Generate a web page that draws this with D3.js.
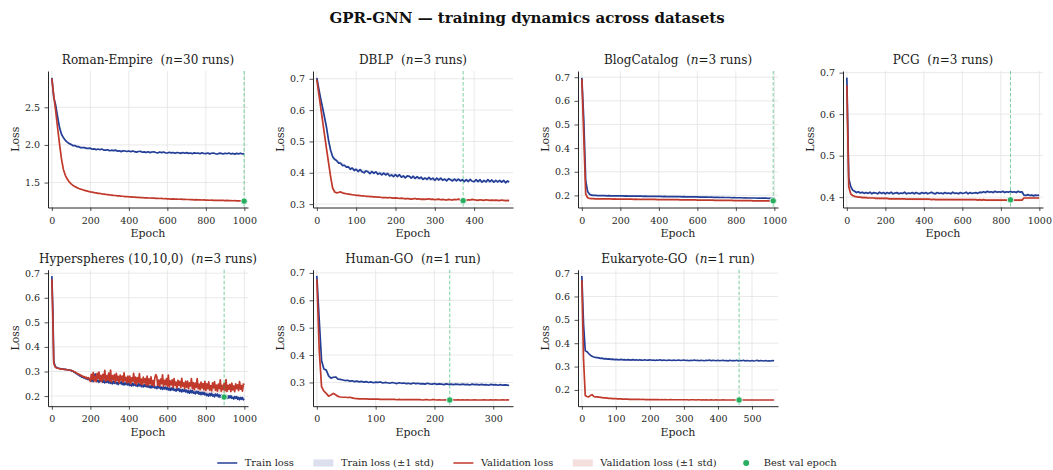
<!DOCTYPE html>
<html>
<head>
<meta charset="utf-8">
<script src="https://cdn.jsdelivr.net/npm/d3@7"></script>
<style>
  html, body { margin: 0; padding: 0; background: #fff; }
  svg { display: block; font-family: "DejaVu Serif", serif; }
  text { white-space: pre; }
</style>
</head>
<body>
<svg id="chart" width="1053" height="470"></svg>
<script>
// ---------------------------------------------------------------------------
// Mean loss curves per dataset, one value per sampled epoch
// (epochs 0, step, 2*step, ... with the final value at the last epoch).
// ---------------------------------------------------------------------------
const romanTrain = [
  2.890,2.632,2.528,2.372,2.231,2.142,2.097,2.061,2.038,2.017,
  2.008,1.990,1.991,1.977,1.977,1.963,1.965,1.964,1.953,1.954,
  1.957,1.943,1.948,1.936,1.945,1.936,1.945,1.931,1.932,1.936,
  1.923,1.930,1.924,1.931,1.918,1.922,1.911,1.923,1.919,1.913,
  1.920,1.910,1.920,1.910,1.905,1.913,1.915,1.903,1.908,1.899,
  1.909,1.898,1.906,1.909,1.899,1.894,1.906,1.898,1.906,1.895,
  1.893,1.903,1.895,1.899,1.889,1.899,1.896,1.888,1.899,1.890,
  1.898,1.888,1.893,1.884,1.895,1.889,1.893,1.883,1.896,1.886,
  1.884,1.893,1.881,1.889,1.893,1.883,1.879,1.890,1.887,1.880,
  1.890,1.883,1.892,1.880,1.887,1.878,1.888,1.881,1.890,1.880,
  1.885];
const romanVal = [
  2.880,2.650,2.450,2.225,2.010,1.815,1.675,1.596,1.546,1.510,
  1.483,1.462,1.446,1.433,1.422,1.412,1.404,1.396,1.389,1.382,
  1.376,1.372,1.366,1.363,1.357,1.355,1.349,1.347,1.342,1.340,
  1.336,1.334,1.329,1.328,1.324,1.323,1.319,1.318,1.314,1.314,
  1.311,1.310,1.307,1.307,1.303,1.304,1.300,1.301,1.297,1.298,
  1.296,1.295,1.292,1.293,1.290,1.291,1.288,1.289,1.285,1.286,
  1.284,1.284,1.281,1.282,1.279,1.280,1.278,1.279,1.276,1.277,
  1.275,1.275,1.273,1.274,1.271,1.272,1.270,1.271,1.268,1.269,
  1.267,1.268,1.265,1.267,1.264,1.265,1.263,1.264,1.262,1.263,
  1.261,1.262,1.259,1.261,1.258,1.259,1.257,1.258,1.256,1.257,
  1.255];

const dblpTrain = [
  0.703,0.668,0.635,0.605,0.574,0.542,0.502,0.472,0.452,0.443,
  0.439,0.431,0.431,0.423,0.424,0.418,0.419,0.411,0.415,0.407,
  0.411,0.404,0.410,0.403,0.400,0.406,0.403,0.397,0.404,0.398,
  0.403,0.395,0.399,0.393,0.399,0.393,0.398,0.390,0.393,0.388,
  0.394,0.388,0.394,0.386,0.390,0.384,0.390,0.389,0.383,0.389,
  0.382,0.388,0.382,0.386,0.379,0.384,0.379,0.385,0.379,0.383,
  0.376,0.383,0.377,0.383,0.376,0.380,0.374,0.381,0.378,0.374,
  0.380,0.374,0.380,0.374,0.378,0.372,0.378,0.372,0.379,0.373,
  0.372,0.378,0.372,0.378,0.370,0.376,0.371,0.378,0.372,0.377,
  0.370,0.376,0.371,0.376,0.370,0.376,0.368,0.374,
  0.370];
const dblpVal = [
  0.697,0.652,0.607,0.562,0.517,0.473,0.430,0.388,0.352,0.339,
  0.336,0.337,0.339,0.336,0.334,0.333,0.332,0.331,0.330,0.329,
  0.328,0.328,0.327,0.326,0.326,0.325,0.325,0.324,0.324,0.323,
  0.323,0.322,0.322,0.321,0.321,0.321,0.320,0.321,0.320,0.319,
  0.320,0.319,0.318,0.319,0.318,0.317,0.318,0.317,0.316,0.317,
  0.318,0.316,0.317,0.315,0.316,0.315,0.316,0.317,0.315,0.316,
  0.314,0.315,0.316,0.314,0.315,0.314,0.313,0.315,0.314,0.313,
  0.315,0.314,0.316,0.313,0.314,0.312,0.312,0.314,0.313,0.315,
  0.314,0.313,0.312,0.314,0.313,0.312,0.314,0.313,0.312,0.313,
  0.312,0.313,0.312,0.311,0.313,0.312,0.311,0.312,
  0.311];

const blogTrain = [
  0.697,0.520,0.262,0.216,0.205,0.201,0.200,0.200,0.199,0.199,
  0.199,0.199,0.199,0.198,0.199,0.198,0.198,0.198,0.198,0.198,
  0.198,0.198,0.197,0.198,0.197,0.197,0.197,0.197,0.197,0.197,
  0.197,0.197,0.196,0.197,0.196,0.196,0.196,0.196,0.196,0.196,
  0.196,0.196,0.195,0.196,0.195,0.195,0.195,0.195,0.195,0.195,
  0.195,0.195,0.194,0.195,0.194,0.194,0.194,0.194,0.194,0.194,
  0.194,0.193,0.193,0.193,0.193,0.193,0.192,0.193,0.192,0.192,
  0.192,0.192,0.191,0.192,0.191,0.191,0.191,0.191,0.190,0.191,
  0.190,0.190,0.190,0.190,0.189,0.190,0.189,0.189,0.189,0.189,
  0.189,0.188,0.189,0.188,0.188,0.188,0.188,0.187,0.188,0.187,
  0.187];
const blogVal = [
  0.692,0.450,0.206,0.190,0.187,0.186,0.186,0.185,0.185,0.185,
  0.185,0.185,0.185,0.185,0.185,0.185,0.184,0.185,0.184,0.184,
  0.184,0.184,0.184,0.184,0.184,0.184,0.184,0.183,0.184,0.183,
  0.183,0.183,0.183,0.183,0.183,0.183,0.183,0.183,0.183,0.182,
  0.182,0.182,0.182,0.182,0.182,0.182,0.182,0.182,0.182,0.182,
  0.182,0.181,0.181,0.181,0.181,0.181,0.181,0.181,0.181,0.181,
  0.180,0.180,0.180,0.180,0.180,0.180,0.180,0.180,0.180,0.179,
  0.179,0.179,0.179,0.179,0.179,0.179,0.179,0.179,0.179,0.178,
  0.178,0.178,0.178,0.178,0.178,0.178,0.178,0.178,0.178,0.177,
  0.177,0.177,0.177,0.177,0.177,0.177,0.177,0.177,0.177,0.177,
  0.177];

const pcgTrain = [
  0.688,0.445,0.426,0.417,0.414,0.411,0.413,0.410,0.412,0.409,
  0.411,0.409,0.412,0.408,0.411,0.410,0.408,0.412,0.409,0.411,
  0.408,0.411,0.409,0.412,0.408,0.410,0.411,0.408,0.410,0.409,
  0.412,0.408,0.410,0.409,0.411,0.408,0.411,0.409,0.408,0.411,
  0.409,0.411,0.408,0.410,0.412,0.409,0.408,0.411,0.409,0.410,
  0.408,0.411,0.409,0.410,0.408,0.412,0.409,0.410,0.408,0.411,
  0.409,0.410,0.412,0.408,0.411,0.409,0.410,0.411,0.409,0.412,
  0.411,0.413,0.411,0.414,0.412,0.413,0.411,0.414,0.412,0.413,
  0.412,0.414,0.411,0.413,0.412,0.414,0.412,0.413,0.411,0.414,
  0.412,0.413,0.405,0.404,0.406,0.404,0.405,0.403,0.405,0.404,
  0.405];
const pcgVal = [
  0.669,0.425,0.408,0.404,0.402,0.401,0.400,0.400,0.399,0.399,
  0.399,0.398,0.398,0.398,0.398,0.397,0.397,0.397,0.397,0.397,
  0.397,0.397,0.396,0.396,0.396,0.396,0.396,0.396,0.396,0.396,
  0.396,0.395,0.395,0.395,0.395,0.395,0.395,0.395,0.395,0.395,
  0.395,0.395,0.395,0.395,0.394,0.395,0.394,0.394,0.394,0.394,
  0.394,0.394,0.394,0.394,0.394,0.394,0.394,0.394,0.394,0.394,
  0.394,0.394,0.394,0.394,0.394,0.394,0.394,0.394,0.393,0.394,
  0.393,0.394,0.393,0.393,0.393,0.393,0.393,0.393,0.393,0.393,
  0.393,0.393,0.393,0.393,0.393,0.393,0.393,0.393,0.393,0.393,
  0.393,0.393,0.398,0.398,0.398,0.398,0.398,0.398,0.398,0.398,
  0.398];

const hyperTrain = [
  0.688,0.560,0.342,0.326,0.318,0.316,0.314,0.313,0.312,0.311,0.311,0.310,0.310,0.309,0.309,0.308,0.307,0.307,0.306,0.305,
  0.304,0.301,0.301,0.297,0.296,0.292,0.291,0.287,0.287,0.282,0.282,0.277,0.278,0.274,0.275,0.271,0.272,0.268,0.270,0.266,
  0.270,0.261,0.267,0.259,0.280,0.290,0.270,0.259,0.264,0.256,0.267,0.260,0.267,0.256,0.263,0.254,0.263,0.256,0.263,0.254,
  0.261,0.252,0.258,0.250,0.260,0.252,0.261,0.250,0.255,0.247,0.258,0.251,0.258,0.247,0.254,0.245,0.254,0.247,0.254,0.245,
  0.252,0.243,0.249,0.241,0.252,0.243,0.252,0.242,0.246,0.239,0.250,0.242,0.250,0.238,0.246,0.237,0.246,0.239,0.247,0.237,
  0.244,0.235,0.241,0.233,0.243,0.235,0.243,0.233,0.237,0.230,0.240,0.233,0.240,0.229,0.236,0.227,0.236,0.229,0.236,0.227,
  0.234,0.225,0.231,0.223,0.233,0.225,0.233,0.223,0.227,0.220,0.230,0.223,0.230,0.219,0.226,0.217,0.226,0.219,0.226,0.217,
  0.224,0.214,0.221,0.212,0.223,0.214,0.223,0.212,0.216,0.209,0.219,0.212,0.219,0.208,0.215,0.206,0.215,0.207,0.215,0.205,
  0.211,0.202,0.208,0.200,0.210,0.202,0.211,0.200,0.205,0.197,0.208,0.201,0.208,0.197,0.204,0.195,0.204,0.197,0.205,0.195,
  0.202,0.193,0.199,0.191,0.201,0.193,0.201,0.191,0.195,0.188,0.198,0.191,0.198,0.187,0.194,0.185,0.194,0.187,0.194,0.185,
  0.189];
const hyperVal = [
  0.675,0.520,0.335,0.322,0.316,0.314,0.313,0.312,0.311,0.311,0.310,0.310,0.309,0.309,0.308,0.308,0.307,0.306,0.306,0.305,
  0.305,0.303,0.302,0.299,0.298,0.295,0.293,0.290,0.289,0.286,0.285,0.281,0.281,0.277,0.279,0.274,0.276,0.271,0.275,0.269,
  0.261,0.288,0.268,0.296,0.262,0.281,0.259,0.292,0.272,0.298,0.263,0.284,0.259,0.288,0.269,0.305,0.261,0.283,0.265,0.293,
  0.261,0.306,0.258,0.283,0.267,0.287,0.257,0.292,0.264,0.280,0.254,0.285,0.265,0.281,0.257,0.294,0.262,0.276,0.254,0.281,
  0.256,0.281,0.250,0.274,0.261,0.292,0.252,0.277,0.248,0.275,0.256,0.291,0.250,0.269,0.246,0.277,0.254,0.271,0.246,0.281,
  0.243,0.270,0.250,0.278,0.244,0.263,0.241,0.274,0.287,0.280,0.244,0.265,0.240,0.269,0.250,0.286,0.240,0.264,0.246,0.271,
  0.240,0.285,0.237,0.262,0.246,0.266,0.236,0.271,0.243,0.257,0.233,0.264,0.244,0.260,0.235,0.272,0.240,0.254,0.231,0.260,
  0.236,0.261,0.230,0.254,0.241,0.271,0.231,0.255,0.226,0.253,0.236,0.271,0.230,0.249,0.226,0.257,0.233,0.251,0.226,0.260,
  0.223,0.250,0.230,0.258,0.224,0.243,0.221,0.254,0.233,0.259,0.224,0.245,0.220,0.249,0.230,0.266,0.220,0.244,0.226,0.252,
  0.222,0.267,0.219,0.244,0.228,0.248,0.218,0.253,0.225,0.241,0.218,0.250,0.230,0.246,0.222,0.259,0.228,0.242,0.220,0.249,
  0.245];

const humanTrain = [
  0.689,0.530,0.380,0.349,0.345,0.324,0.316,0.319,0.320,0.312,
  0.311,0.309,0.307,0.308,0.305,0.306,0.303,0.305,0.302,0.304,
  0.301,0.303,0.300,0.302,0.299,0.301,0.300,0.302,0.298,0.300,
  0.299,0.297,0.300,0.298,0.296,0.299,0.297,0.298,0.296,0.297,
  0.295,0.298,0.296,0.297,0.295,0.296,0.294,0.297,0.295,0.294,
  0.296,0.293,0.295,0.294,0.292,0.295,0.293,0.294,0.292,0.294,
  0.293,0.292,0.294,0.292,0.293,0.291,0.294,0.292,0.293,0.291,
  0.293,0.291,0.292,0.290,0.293,0.291,0.292,0.290,0.292,0.290,
  0.291,0.290,0.289];
const humanVal = [
  0.677,0.420,0.285,0.268,0.260,0.250,0.254,0.260,0.255,0.249,
  0.247,0.246,0.246,0.245,0.246,0.244,0.242,0.241,0.240,0.240,
  0.240,0.240,0.239,0.239,0.239,0.239,0.239,0.238,0.238,0.238,
  0.238,0.238,0.238,0.238,0.237,0.238,0.237,0.237,0.237,0.237,
  0.237,0.237,0.237,0.237,0.237,0.236,0.237,0.237,0.236,0.237,
  0.237,0.236,0.237,0.236,0.236,0.237,0.236,0.236,0.237,0.236,
  0.237,0.236,0.237,0.236,0.237,0.236,0.236,0.237,0.236,0.236,
  0.236,0.237,0.236,0.236,0.237,0.236,0.237,0.236,0.236,0.237,
  0.236,0.237,0.236];

const eukTrain = [
  0.688,0.480,0.368,0.364,0.356,0.349,0.344,0.341,0.339,0.338,
  0.337,0.335,0.336,0.333,0.334,0.332,0.333,0.331,0.332,0.330,
  0.331,0.330,0.329,0.331,0.329,0.330,0.328,0.330,0.329,0.328,
  0.330,0.328,0.329,0.327,0.329,0.328,0.327,0.329,0.327,0.328,
  0.329,0.327,0.328,0.326,0.328,0.327,0.329,0.326,0.328,0.327,
  0.326,0.328,0.327,0.326,0.328,0.326,0.327,0.328,0.326,0.327,
  0.328,0.326,0.327,0.325,0.327,0.326,0.328,0.326,0.327,0.325,
  0.327,0.326,0.325,0.327,0.326,0.328,0.325,0.327,0.326,0.325,
  0.327,0.325,0.326,0.327,0.325,0.326,0.324,0.327,0.325,0.326,
  0.325,0.327,0.324,0.326,0.325,0.327,0.324,0.326,0.325,0.324,
  0.326,0.324,0.325,0.327,0.324,0.326,0.325,0.324,0.326,0.324,
  0.325,0.324,0.326,0.325];
const eukVal = [
  0.669,0.330,0.176,0.172,0.170,0.176,0.180,0.172,0.170,0.170,
  0.169,0.168,0.167,0.166,0.166,0.165,0.164,0.164,0.163,0.163,
  0.163,0.162,0.162,0.162,0.161,0.161,0.161,0.161,0.160,0.160,
  0.160,0.160,0.160,0.160,0.160,0.159,0.160,0.159,0.159,0.159,
  0.159,0.159,0.159,0.159,0.159,0.159,0.158,0.159,0.158,0.159,
  0.158,0.158,0.159,0.158,0.158,0.158,0.158,0.158,0.158,0.158,
  0.158,0.158,0.158,0.157,0.158,0.158,0.158,0.157,0.158,0.158,
  0.157,0.158,0.157,0.158,0.157,0.157,0.158,0.157,0.157,0.158,
  0.157,0.157,0.157,0.158,0.157,0.157,0.157,0.157,0.157,0.157,
  0.157,0.157,0.157,0.157,0.157,0.157,0.157,0.157,0.157,0.157,
  0.157,0.157,0.157,0.157,0.157,0.157,0.157,0.157,0.157,0.157,
  0.157,0.157,0.157,0.157];

// Run-to-run spread (±1 std) at selected epochs, for multi-run datasets.
const romanStdEpochs = [0,10,20,30,40,50,60,80,100,150,200,300,400,500,600,700,800,900,999];
const romanTrainStd  = [0.010,0.015,0.018,0.020,0.018,0.015,0.012,0.010,0.009,0.008,0.007,0.007,0.006,0.006,0.006,0.006,0.006,0.006,0.006];
const romanValStd    = [0.010,0.020,0.025,0.025,0.022,0.018,0.012,0.008,0.006,0.005,0.005,0.004,0.004,0.004,0.004,0.004,0.004,0.004,0.004];
const dblpStdEpochs  = [0,10,20,30,40,50,60,80,100,150,200,250,300,350,400,450,489];
const dblpTrainStd   = [0.002,0.006,0.007,0.007,0.006,0.004,0.004,0.003,0.003,0.003,0.003,0.003,0.003,0.003,0.003,0.003,0.003];
const dblpValStd     = [0.002,0.008,0.010,0.010,0.008,0.004,0.003,0.002,0.002,0.002,0.002,0.002,0.002,0.002,0.002,0.002,0.002];
const blogStdEpochs  = [0,10,20,30,40,60,100,200,400,600,800,999];
const blogTrainStd   = [0.003,0.020,0.010,0.004,0.003,0.002,0.002,0.002,0.002,0.002,0.002,0.002];
const blogValStd     = [0.003,0.020,0.006,0.003,0.002,0.002,0.002,0.002,0.002,0.002,0.002,0.002];
const pcgStdEpochs   = [0,10,20,30,50,100,200,400,600,800,900,920,999];
const pcgTrainStd    = [0.001,0.008,0.004,0.003,0.002,0.002,0.002,0.002,0.002,0.002,0.002,0.002,0.002];
const pcgValStd      = [0.001,0.008,0.004,0.003,0.003,0.003,0.003,0.003,0.003,0.003,0.003,0.003,0.003];
const hyperStdEpochs = [0,10,20,50,100,150,200,300,400,500,600,700,800,900,999];
const hyperTrainStd  = [0.001,0.006,0.004,0.003,0.003,0.004,0.005,0.005,0.005,0.005,0.005,0.005,0.005,0.005,0.005];
const hyperValStd    = [0.001,0.006,0.004,0.003,0.003,0.005,0.008,0.010,0.010,0.010,0.010,0.010,0.010,0.010,0.010];

// Per-dataset metadata
const datasetNames = ["Roman-Empire", "DBLP", "BlogCatalog", "PCG", "Hyperspheres (10,10,0)", "Human-GO", "Eukaryote-GO"];
const datasetRuns  = [30, 3, 3, 3, 3, 1, 1];
const epochSteps   = [10, 5, 10, 10, 5, 4, 5];
const lastEpochs   = [999, 489, 999, 999, 999, 327, 565];
const bestEpochs   = [999, 372, 994, 850, 895, 226, 462];
const bestVals     = [1.253, 0.311, 0.177, 0.3935, 0.196, 0.236, 0.157];

// Tick labels
const xTickSets = [
  [0, 200, 400, 600, 800, 1000],
  [0, 100, 200, 300, 400],
  [0, 200, 400, 600, 800, 1000],
  [0, 200, 400, 600, 800, 1000],
  [0, 200, 400, 600, 800, 1000],
  [0, 100, 200, 300],
  [0, 100, 200, 300, 400, 500]
];
const yTickSets = [
  [1.5, 2.0, 2.5],
  [0.3, 0.4, 0.5, 0.6, 0.7],
  [0.2, 0.3, 0.4, 0.5, 0.6, 0.7],
  [0.4, 0.5, 0.6, 0.7],
  [0.2, 0.3, 0.4, 0.5, 0.6, 0.7],
  [0.3, 0.4, 0.5, 0.6, 0.7],
  [0.2, 0.3, 0.4, 0.5, 0.6, 0.7]
];
const legendLabels = ["Train loss", "Train loss (±1 std)", "Validation loss", "Validation loss (±1 std)", "Best val epoch"];

// Assemble the panel table
const trainSeries = [romanTrain, dblpTrain, blogTrain, pcgTrain, hyperTrain, humanTrain, eukTrain];
const valSeries   = [romanVal, dblpVal, blogVal, pcgVal, hyperVal, humanVal, eukVal];
const stdEpochSets = [romanStdEpochs, dblpStdEpochs, blogStdEpochs, pcgStdEpochs, hyperStdEpochs, null, null];
const trainStdSets = [romanTrainStd, dblpTrainStd, blogTrainStd, pcgTrainStd, hyperTrainStd, null, null];
const valStdSets   = [romanValStd, dblpValStd, blogValStd, pcgValStd, hyperValStd, null, null];

const panels = datasetNames.map((name, i) => ({
  name, runs: datasetRuns[i], step: epochSteps[i], last: lastEpochs[i],
  train: trainSeries[i], val: valSeries[i],
  stdEpochs: stdEpochSets[i], trainStd: trainStdSets[i], valStd: valStdSets[i],
  bestEpoch: bestEpochs[i], bestVal: bestVals[i],
  xTicks: xTickSets[i], yTicks: yTickSets[i]
}));

// ---------------------------------------------------------------------------
// Drawing
// ---------------------------------------------------------------------------
const COLORS = { train: "#233e96", val: "#c0392b", best: "#27ae60", grid: "#e3e3e3", ink: "#262626" };
const BAND_OPACITY = 0.16;
const LINE_WIDTH = 1.7;
const LAYOUT = { lefts: [48, 313, 578, 843], tops: [71, 269.7], w: 200, h: 136.5 };
const FONT = { title: 15, panelTitle: 12, label: 11, tick: 9.5, legend: 9.9 };

const svg = d3.select("#chart");

svg.append("text")
  .attr("x", 527).attr("y", 23)
  .attr("text-anchor", "middle")
  .attr("font-size", FONT.title)
  .attr("font-weight", "bold")
  .attr("fill", "#111")
  .text("GPR-GNN — training dynamics across datasets");

function drawPanel(p, i) {
  const L = LAYOUT.lefts[i % 4];
  const T = LAYOUT.tops[Math.floor(i / 4)];
  const W = LAYOUT.w, H = LAYOUT.h;

  const epochs = p.train.map((_, k) => Math.min(k * p.step, p.last));
  const meanAt = (arr, e) => arr[epochs.indexOf(e)];
  const band = (arr, std) => p.stdEpochs
    ? p.stdEpochs.map((e, k) => ({ e, lo: meanAt(arr, e) - std[k], hi: meanAt(arr, e) + std[k] }))
    : [];
  const trainBand = band(p.train, p.trainStd);
  const valBand = band(p.val, p.valStd);

  const allY = p.train.concat(p.val, [p.bestVal],
    trainBand.flatMap(d => [d.lo, d.hi]), valBand.flatMap(d => [d.lo, d.hi]));
  const [lo, hi] = d3.extent(allY);
  const pad = (hi - lo) * 0.05;

  const x = d3.scaleLinear().domain([-0.02 * p.last, 1.02 * p.last]).range([L, L + W]);
  const y = d3.scaleLinear().domain([lo - pad, hi + pad]).range([T + H, T]);

  const g = svg.append("g");

  // grid
  g.append("g").selectAll("line").data(p.xTicks).join("line")
    .attr("x1", d => x(d)).attr("x2", d => x(d))
    .attr("y1", T).attr("y2", T + H)
    .attr("stroke", COLORS.grid).attr("stroke-width", 0.8);
  g.append("g").selectAll("line").data(p.yTicks).join("line")
    .attr("x1", L).attr("x2", L + W)
    .attr("y1", d => y(d)).attr("y2", d => y(d))
    .attr("stroke", COLORS.grid).attr("stroke-width", 0.8);

  // ±1 std bands
  const area = d3.area().x(d => x(d.e)).y0(d => y(d.lo)).y1(d => y(d.hi));
  if (trainBand.length) g.append("path").attr("d", area(trainBand))
    .attr("fill", COLORS.train).attr("fill-opacity", BAND_OPACITY);
  if (valBand.length) g.append("path").attr("d", area(valBand))
    .attr("fill", COLORS.val).attr("fill-opacity", BAND_OPACITY);

  // mean curves
  const line = d3.line().x((d, k) => x(epochs[k])).y(d => y(d));
  g.append("path").attr("d", line(p.train))
    .attr("fill", "none").attr("stroke", COLORS.train)
    .attr("stroke-width", LINE_WIDTH).attr("stroke-linejoin", "round");
  g.append("path").attr("d", line(p.val))
    .attr("fill", "none").attr("stroke", COLORS.val)
    .attr("stroke-width", LINE_WIDTH).attr("stroke-linejoin", "round");

  // best validation epoch
  g.append("line")
    .attr("x1", x(p.bestEpoch)).attr("x2", x(p.bestEpoch))
    .attr("y1", T).attr("y2", T + H)
    .attr("stroke", COLORS.best).attr("stroke-opacity", 0.6)
    .attr("stroke-width", 1).attr("stroke-dasharray", "3.5,2");
  g.append("circle")
    .attr("cx", x(p.bestEpoch)).attr("cy", y(p.bestVal)).attr("r", 3.2)
    .attr("fill", COLORS.best).attr("stroke", "#fff").attr("stroke-width", 0.8);

  // axes
  const styleAxis = sel => {
    sel.attr("font-family", null).attr("font-size", null);
    sel.select(".domain").attr("stroke", COLORS.ink).attr("stroke-width", 1);
    sel.selectAll(".tick line").attr("stroke", COLORS.ink).attr("stroke-width", 0.8);
    sel.selectAll(".tick text").attr("font-size", FONT.tick).attr("fill", COLORS.ink);
  };
  g.append("g").attr("transform", `translate(0,${T + H})`)
    .call(d3.axisBottom(x).tickValues(p.xTicks).tickFormat(d3.format("d"))
      .tickSize(3.5).tickSizeOuter(0).tickPadding(5.8))
    .call(styleAxis);
  g.append("g").attr("transform", `translate(${L},0)`)
    .call(d3.axisLeft(y).tickValues(p.yTicks).tickFormat(d3.format(".1f"))
      .tickSize(3.5).tickSizeOuter(0).tickPadding(4.5))
    .call(styleAxis);

  // labels
  g.append("text").attr("x", L + W / 2).attr("y", T + H + 29.7)
    .attr("text-anchor", "middle").attr("font-size", FONT.label).attr("fill", COLORS.ink)
    .text("Epoch");
  g.append("text").attr("transform", `translate(${L - 29},${T + H / 2}) rotate(-90)`)
    .attr("text-anchor", "middle").attr("font-size", FONT.label).attr("fill", COLORS.ink)
    .text("Loss");

  const title = g.append("text").attr("x", L + W / 2).attr("y", T - 7)
    .attr("text-anchor", "middle").attr("font-size", FONT.panelTitle).attr("fill", "#1a1a1a");
  title.append("tspan").text(`${p.name}  (`);
  title.append("tspan").attr("font-style", "italic").text("n");
  title.append("tspan").text(`=${p.runs} ${p.runs === 1 ? "run" : "runs"})`);
}

panels.forEach(drawPanel);

// ---------------------------------------------------------------------------
// Legend (centred under the grid)
// ---------------------------------------------------------------------------
const legendKinds = ["line", "patch", "line", "patch", "dot"];
const legendColors = [COLORS.train, COLORS.train, COLORS.val, COLORS.val, COLORS.best];
const LEG = { cy: 463, handle: 20, gap: 7.5, spacing: 19.5 };

const legend = svg.append("g");
const items = legendLabels.map((label, i) => {
  const it = legend.append("g");
  const txt = it.append("text").attr("x", LEG.handle + LEG.gap).attr("y", LEG.cy + 3.4)
    .attr("font-size", FONT.legend).attr("fill", COLORS.ink).text(label);
  const kind = legendKinds[i], c = legendColors[i];
  if (kind === "line") {
    it.append("line").attr("x1", 0).attr("x2", LEG.handle).attr("y1", LEG.cy).attr("y2", LEG.cy)
      .attr("stroke", c).attr("stroke-width", 1.5);
  } else if (kind === "patch") {
    it.append("rect").attr("x", 0).attr("y", LEG.cy - 3.6).attr("width", LEG.handle).attr("height", 7.2)
      .attr("fill", c).attr("fill-opacity", BAND_OPACITY);
  } else {
    it.append("circle").attr("cx", LEG.handle / 2).attr("cy", LEG.cy).attr("r", 3)
      .attr("fill", c);
  }
  return { it, width: LEG.handle + LEG.gap + txt.node().getComputedTextLength() };
});
const total = d3.sum(items, d => d.width) + LEG.spacing * (items.length - 1);
let cursor = 527 - total / 2;
items.forEach(d => {
  d.it.attr("transform", `translate(${cursor},0)`);
  cursor += d.width + LEG.spacing;
});
</script>
</body>
</html>
